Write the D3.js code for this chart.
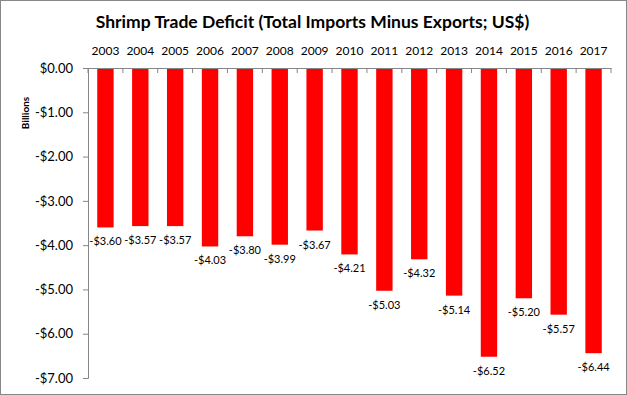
<!DOCTYPE html>
<html>
<head>
<meta charset="utf-8">
<script src="https://cdn.jsdelivr.net/npm/d3@7"></script>
<style>
  body { margin: 0; background: #fff; }
  text { font-family: Lato, "Open Sans", sans-serif; fill: #000; }
</style>
</head>
<body>
<script>
// Chart data.
var years = ['2003', '2004', '2005', '2006', '2007', '2008', '2009', '2010',
             '2011', '2012', '2013', '2014', '2015', '2016', '2017'];
var deficit = [-3.60, -3.57, -3.57, -4.03, -3.80, -3.99, -3.67, -4.21,
               -5.03, -4.32, -5.14, -6.52, -5.20, -5.57, -6.44];
var yTicks = [0, -1, -2, -3, -4, -5, -6, -7];

var width = 627, height = 395;
var margin = {top: 68, right: 16, bottom: 17, left: 88};

var svg = d3.select('body').append('svg')
    .attr('width', width)
    .attr('height', height);

// Chart border.
svg.append('rect')
    .attr('x', 0.5).attr('y', 0.5)
    .attr('width', width - 1).attr('height', height - 1)
    .style('fill', '#fff')
    .style('stroke', '#888');

var x = d3.scaleBand()
    .domain(years)
    .range([margin.left, width - margin.right])
    .paddingInner(0.53)
    .paddingOuter(0.265);

var y = d3.scaleLinear()
    .domain([0, -7])
    .range([margin.top, height - margin.bottom]);

var fmt = function(v) {
  return (v < 0 ? '-$' : '$') + Math.abs(v).toFixed(2);
};

// Title.
svg.append('text')
    .attr('x', width / 2 - 1)
    .attr('y', 28)
    .attr('text-anchor', 'middle')
    .style('font-size', '17.5px')
    .style('font-weight', 'bold')
    .text('Shrimp Trade Deficit (Total Imports Minus Exports; US$)');

// Bars.
svg.selectAll('rect.bar')
    .data(deficit)
  .enter().append('rect')
    .attr('class', 'bar')
    .attr('x', function(d, i) { return x(years[i]); })
    .attr('y', y(0))
    .attr('width', x.bandwidth())
    .attr('height', function(d) { return y(d) - y(0); })
    .style('fill', '#ff0000');

// Value labels under each bar.
svg.selectAll('text.value')
    .data(deficit)
  .enter().append('text')
    .attr('class', 'value')
    .attr('x', function(d, i) { return x(years[i]) + x.bandwidth() / 2; })
    .attr('y', function(d) { return y(d) + 18; })
    .attr('text-anchor', 'middle')
    .style('font-size', '11px')
    .text(fmt);

// Left axis.
var yAxis = svg.append('g')
    .attr('transform', 'translate(' + margin.left + ',0)')
    .call(d3.axisLeft(y).tickValues(yTicks).tickFormat(fmt).tickSize(5).tickPadding(10));
yAxis.select('.domain').style('stroke', '#868686');
yAxis.selectAll('.tick line').style('stroke', '#868686');
yAxis.selectAll('.tick text').style('font-size', '13px');

// Top category axis, ticks sit between categories.
var xAxis = svg.append('g')
    .attr('transform', 'translate(0,' + margin.top + ')')
    .call(d3.axisTop(x).tickSize(0).tickPadding(13));
xAxis.select('.domain').style('stroke', '#868686');
xAxis.selectAll('.tick text').style('font-size', '12px');

var step = x.step();
var bounds = d3.range(years.length + 1).map(function(i) { return margin.left + i * step; });
svg.selectAll('line.sep')
    .data(bounds)
  .enter().append('line')
    .attr('class', 'sep')
    .attr('x1', function(d) { return d; })
    .attr('x2', function(d) { return d; })
    .attr('y1', margin.top)
    .attr('y2', margin.top + 5)
    .style('stroke', '#868686');

// Axis title.
svg.append('text')
    .attr('transform', 'translate(29,' + (margin.top + 45) + ') rotate(-90)')
    .attr('text-anchor', 'middle')
    .style('font-size', '10px')
    .style('font-weight', 'bold')
    .text('Billions');
</script>
</body>
</html>
